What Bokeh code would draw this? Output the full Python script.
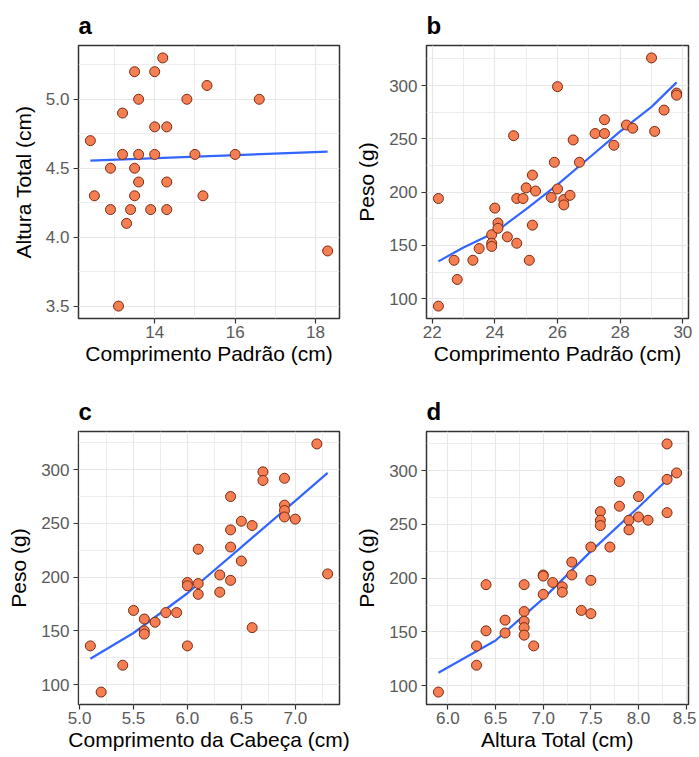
from bokeh.plotting import figure
from bokeh.layouts import column, row
from bokeh.models import FixedTicker, Range1d, NumeralTickFormatter
from bokeh.embed import file_html
from bokeh.resources import INLINE

# ---- Panel a: Comprimento Padrão vs Altura Total ----
a_x = [12.4, 12.5, 12.9, 12.9, 13.2, 13.2, 13.1, 13.3, 13.4, 13.5, 13.5, 13.5, 13.6, 13.6, 13.6,
       13.9, 14.0, 14.0, 14.0, 14.2, 14.3, 14.3, 14.3, 14.8, 15.0, 15.2, 15.3, 16.0, 16.6, 18.3]
a_y = [4.7, 4.3, 4.5, 4.2, 4.9, 4.6, 3.5, 4.1, 4.2, 5.2, 4.5, 4.3, 5.0, 4.6, 4.4,
       4.2, 5.2, 4.8, 4.6, 5.3, 4.8, 4.4, 4.2, 5.0, 4.6, 4.3, 5.1, 4.6, 5.0, 3.9]
a_fit_x = [12.4, 18.3]
a_fit_y = [4.555, 4.62]

# ---- Panel b: Comprimento Padrão vs Peso ----
b_x = [22.2, 22.2, 22.7, 22.8, 23.3, 23.5, 23.9, 23.9, 23.9, 24.0, 24.1, 24.1, 24.4, 24.6,
       24.7, 24.7, 24.9, 25.0, 25.1, 25.2, 25.2, 25.3, 25.8, 25.9, 26.0, 26.0, 26.2, 26.2,
       26.4, 26.5, 26.7, 27.2, 27.5, 27.5, 27.8, 28.2, 28.4, 29.0, 29.1, 29.4, 29.8, 29.8]
b_y = [194, 93, 136, 118, 136, 147, 160, 152, 149, 185, 171, 166, 158, 253,
       152, 194, 194, 204, 136, 216, 169, 201, 195, 228, 299, 203, 193, 188,
       197, 249, 228, 255, 268, 255, 244, 263, 260, 326, 257, 277, 293, 291]
b_fit_x = [22.2, 23.0, 24.0, 25.0, 26.0, 27.0, 28.0, 29.0, 29.8]
b_fit_y = [135, 148, 162, 184, 207, 232, 257, 280, 303]

# ---- Panel c: Comprimento da Cabeça vs Peso ----
c_x = [5.1, 5.2, 5.4, 5.5, 5.6, 5.6, 5.6, 5.7, 5.8, 5.9, 6.0, 6.0, 6.0, 6.1, 6.1, 6.1,
       6.3, 6.3, 6.4, 6.4, 6.4, 6.4, 6.5, 6.5, 6.6, 6.6, 6.7, 6.7, 6.9, 6.9, 6.9, 6.9,
       7.0, 7.2, 7.3]
c_y = [136, 93, 118, 169, 161, 150, 147, 158, 167, 167, 136, 195, 192, 226, 194, 184,
       202, 186, 275, 244, 228, 197, 252, 215, 248, 153, 298, 290, 292, 267, 262, 256,
       254, 324, 203]
c_fit_x = [5.1, 5.5, 6.0, 6.5, 7.0, 7.3]
c_fit_y = [124, 148, 185, 228, 271, 297]

# ---- Panel d: Altura Total vs Peso ----
d_x = [5.9, 6.3, 6.3, 6.4, 6.4, 6.6, 6.6, 6.8, 6.8, 6.8, 6.8, 6.8, 6.9, 7.0, 7.0, 7.0,
       7.1, 7.2, 7.2, 7.3, 7.3, 7.4, 7.5, 7.5, 7.5, 7.6, 7.6, 7.6, 7.7, 7.8, 7.8, 7.9,
       7.9, 8.0, 8.0, 8.1, 8.3, 8.3, 8.3, 8.4]
d_y = [94, 137, 119, 194, 151, 161, 149, 194, 169, 160, 154, 147, 137, 203, 202, 185,
       196, 192, 187, 215, 203, 170, 229, 198, 167, 262, 254, 249, 229, 290, 267, 254,
       245, 276, 257, 254, 325, 292, 261, 298]
d_fit_x = [5.9, 6.5, 7.0, 7.5, 8.0, 8.4]
d_fit_y = [112, 142, 181, 225, 266, 300]

FONT = "Liberation Sans"
FILL = "#F57F52"
EDGE = "#7B2A10"
LINE = "#3366FF"
GRID = "#E8E8E8"


def expand(vals, f=0.05):
    lo, hi = min(vals), max(vals)
    pad = (hi - lo) * f
    return Range1d(lo - pad, hi + pad)


def panel(tag, xs, ys, fx, fy, xlabel, ylabel, xt, xm, yt, ym, xfmt, yfmt,
          bl, bt, br, bb, fw, fh):
    p = figure(output_backend="svg", toolbar_location=None,
               frame_width=fw, frame_height=fh,
               min_border_left=bl, min_border_top=bt, min_border_right=br, min_border_bottom=bb,
               x_range=expand(xs), y_range=expand(ys), title=tag)
    p.title.text_font = FONT
    p.title.text_font_size = "24px"
    p.title.text_font_style = "bold"
    p.title.text_color = "black"
    p.title.align = "left"
    p.title.standoff = 13
    p.outline_line_color = "#333333"
    p.outline_line_width = 1.5
    p.background_fill_color = "white"
    p.border_fill_color = "white"

    p.xaxis.ticker = FixedTicker(ticks=xt, minor_ticks=xm)
    p.yaxis.ticker = FixedTicker(ticks=yt, minor_ticks=ym)
    p.xaxis.formatter = NumeralTickFormatter(format=xfmt)
    p.yaxis.formatter = NumeralTickFormatter(format=yfmt)
    for ax in (p.xaxis, p.yaxis):
        ax.axis_line_color = None
        ax.major_tick_line_color = "#333333"
        ax.major_tick_line_width = 1.2
        ax.major_tick_out = 5
        ax.major_tick_in = 0
        ax.minor_tick_line_color = None
        ax.major_label_text_font = FONT
        ax.major_label_text_font_size = "17px"
        ax.major_label_text_color = "#5A5A5A"
        ax.axis_label_text_font = FONT
        ax.axis_label_text_font_size = "21px"
        ax.axis_label_text_font_style = "normal"
        ax.axis_label_text_color = "black"
    p.xaxis.major_label_standoff = 2
    p.yaxis.major_label_standoff = 4
    p.xaxis.axis_label_standoff = 1
    p.yaxis.axis_label_standoff = 8
    p.xaxis.axis_label = xlabel
    p.yaxis.axis_label = ylabel

    for g in (p.xgrid, p.ygrid):
        g.grid_line_color = GRID
        g.grid_line_width = 1.2
        g.minor_grid_line_color = GRID
        g.minor_grid_line_width = 0.8

    p.line(fx, fy, line_color=LINE, line_width=2.2)
    p.scatter(xs, ys, size=10, fill_color=FILL, line_color=EDGE, line_width=1)
    return p


pa = panel("a", a_x, a_y, a_fit_x, a_fit_y, "Comprimento Padrão (cm)", "Altura Total (cm)",
           [14, 16, 18], [13, 15, 17], [3.5, 4.0, 4.5, 5.0], [3.75, 4.25, 4.75, 5.25],
           "0", "0.0", 78, 45, 10, 62, 261, 273)
pb = panel("b", b_x, b_y, b_fit_x, b_fit_y, "Comprimento Padrão (cm)", "Peso (g)",
           [22, 24, 26, 28, 30], [23, 25, 27, 29], [100, 150, 200, 250, 300],
           [125, 175, 225, 275, 325], "0", "0", 77, 45, 8, 62, 262, 273)
pc = panel("c", c_x, c_y, c_fit_x, c_fit_y, "Comprimento da Cabeça (cm)", "Peso (g)",
           [5.0, 5.5, 6.0, 6.5, 7.0], [5.25, 5.75, 6.25, 6.75, 7.25], [100, 150, 200, 250, 300],
           [125, 175, 225, 275, 325], "0.0", "0", 78, 51, 10, 46, 261, 273)
pd_ = panel("d", d_x, d_y, d_fit_x, d_fit_y, "Altura Total (cm)", "Peso (g)",
            [6.0, 6.5, 7.0, 7.5, 8.0, 8.5], [5.75, 6.25, 6.75, 7.25, 7.75, 8.25],
            [100, 150, 200, 250, 300], [125, 175, 225, 275, 325], "0.0", "0",
            77, 51, 8, 46, 262, 273)

layout = column(row(pa, pb), row(pc, pd_))
open("out.html", "w").write(file_html(layout, INLINE))
